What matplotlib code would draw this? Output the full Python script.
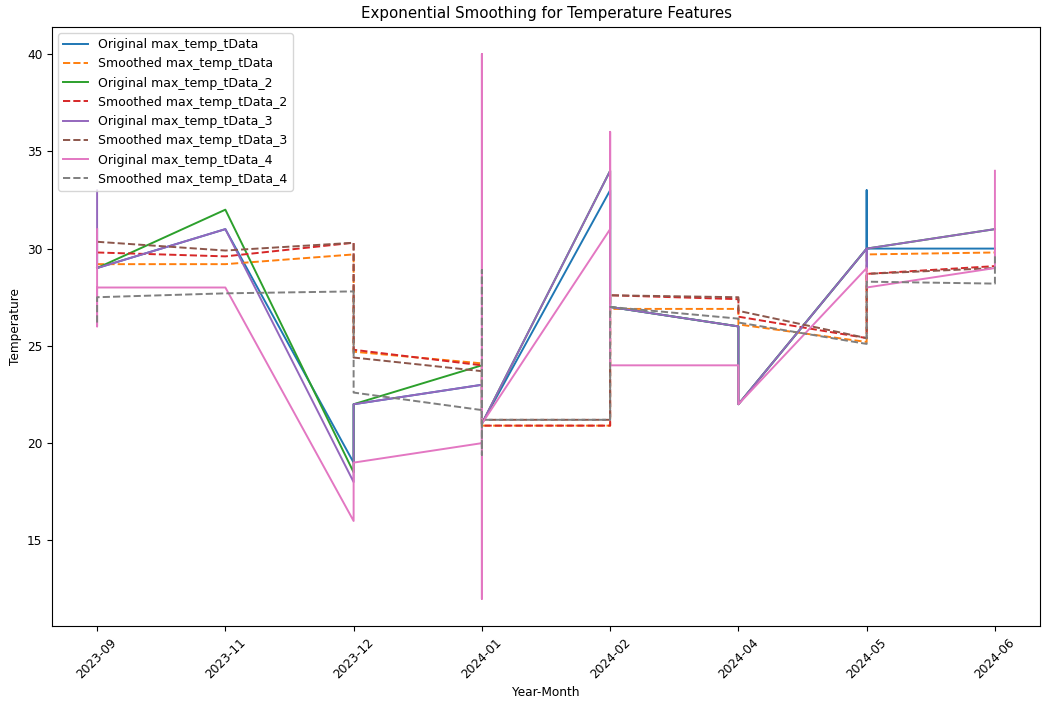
import matplotlib.pyplot as plt

plt.rcParams['font.size'] = 8.7

months = ['2023-09', '2023-11', '2023-12', '2024-01', '2024-02', '2024-04', '2024-05', '2024-06']

# values in plotting order, one list per month
orig_1 = [[31, 29], [31], [19, 22], [23, 21], [33, 27], [26, 22], [30, 33, 30], [30]]
smooth_1 = [[29.2], [29.2], [29.7, 24.7], [24.1, 20.9], [20.9, 26.9], [26.9, 26.1], [25.2, 29.7], [29.8]]
orig_2 = [[29], [32], [18.5, 22], [24, 21], [34, 27], [26, 22], [30], [31]]
smooth_2 = [[29.8], [29.6], [30.3, 24.8], [24.0, 20.9], [20.9, 27.6], [27.4, 26.5], [25.4, 28.7], [29.1]]
orig_3 = [[33, 29], [31], [18, 22], [23, 21], [34, 27], [26, 22], [30, 29, 30], [31]]
smooth_3 = [[30.35], [29.9], [30.3, 24.4], [23.7, 21.2], [21.2, 27.6], [27.5, 26.8], [25.4, 28.7], [29.0]]
orig_4 = [[31, 26, 28], [28], [16, 19], [20, 40, 12, 21], [31, 36, 24], [24, 22], [29, 28], [29, 34]]
smooth_4 = [[26.2, 27.5], [27.7], [27.8, 22.6], [21.7, 28.9, 19.4, 21.2], [21.2, 27.0], [26.4, 26.2], [25.1, 28.3], [28.2, 29.6]]

series = [
    ('Original max_temp_tData', orig_1, '-', 'tab:blue'),
    ('Smoothed max_temp_tData', smooth_1, '--', 'tab:orange'),
    ('Original max_temp_tData_2', orig_2, '-', 'tab:green'),
    ('Smoothed max_temp_tData_2', smooth_2, '--', 'tab:red'),
    ('Original max_temp_tData_3', orig_3, '-', 'tab:purple'),
    ('Smoothed max_temp_tData_3', smooth_3, '--', 'tab:brown'),
    ('Original max_temp_tData_4', orig_4, '-', 'tab:pink'),
    ('Smoothed max_temp_tData_4', smooth_4, '--', 'tab:gray'),
]

fig = plt.figure(figsize=(10.44, 7.05), dpi=100)
ax = fig.add_subplot(111)

for label, vals, ls, col in series:
    xs, ys = [], []
    for m, group in zip(months, vals):
        for v in group:
            xs.append(m)
            ys.append(v)
    ax.plot(xs, ys, linestyle=ls, color=col, label=label, linewidth=1.4)

ax.set_title('Exponential Smoothing for Temperature Features', fontsize=10.8)
ax.set_xlabel('Year-Month')
ax.set_ylabel('Temperature')
ax.legend(loc='upper left', fontsize=9)
plt.xticks(rotation=45)

fig.subplots_adjust(left=0.05, right=0.996, top=0.962, bottom=0.112)
fig.savefig('out.png', dpi=100)
